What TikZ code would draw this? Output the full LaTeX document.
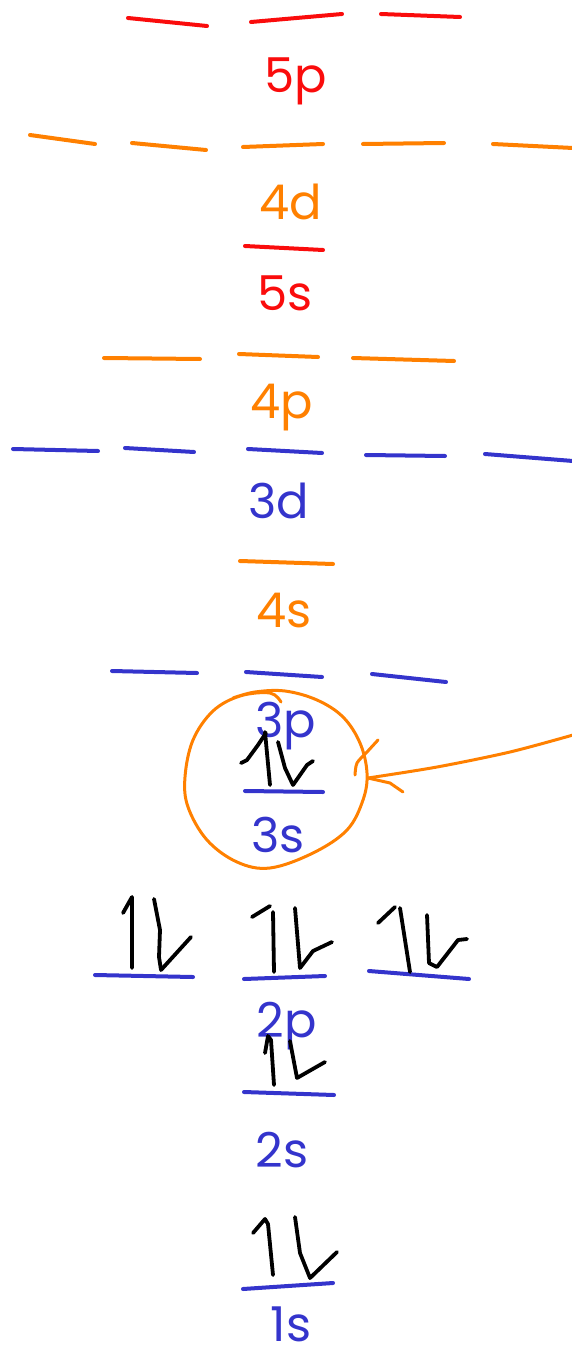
\documentclass[tikz,border=0pt]{standalone}
\usepackage{fontspec}
\setmainfont{Poppins}
\usepackage{tikz}
\definecolor{Cred}{RGB}{250,12,12}
\definecolor{Cora}{RGB}{255,128,0}
\definecolor{Cblu}{RGB}{52,52,204}
\tikzset{
  lvl/.style={draw=#1, line width=4pt, line cap=round},
  lbl/.style={text=#1, anchor=base, inner sep=0pt,
    font=\fontsize{48}{48}\selectfont},
  spin/.style={draw=black, line width=3.8pt, line cap=round, line join=round},
  hand/.style={draw=Cora, line width=3pt, line cap=round, line join=round}
}

\begin{document}
\begin{tikzpicture}[x=1pt, y=-1pt]
\useasboundingbox (0,0) rectangle (571,1356);

% ---- 5p / 4d / 5s ----
\draw[lvl=Cred] (128,18) -- (207,26);
\draw[lvl=Cred] (251,22) -- (342,14);
\draw[lvl=Cred] (381,14) -- (460,17);
\node[lbl=Cred] (L5p) at (296,93) {5p};

\draw[lvl=Cora] (30,135) -- (95,144);
\draw[lvl=Cora] (132,143) -- (206,150);
\draw[lvl=Cora] (243,147) -- (323,144);
\draw[lvl=Cora] (363,144) -- (444,143);
\draw[lvl=Cora] (493,144) -- (573,148);
\node[lbl=Cora] (L4d) at (291,220) {4d};

\draw[lvl=Cred] (245,246) -- (323,250);
\node[lbl=Cred] (L5s) at (285,310) {5s};

% ---- 4p / 3d / 4s ----
\draw[lvl=Cora] (104,358) -- (200,359);
\draw[lvl=Cora] (239,354) -- (318,357);
\draw[lvl=Cora] (353,358) -- (454,361);
\node[lbl=Cora] (L4p) at (282,418) {4p};

\draw[lvl=Cblu] (13,449) -- (98,451);
\draw[lvl=Cblu] (125,448) -- (194,452);
\draw[lvl=Cblu] (248,449) -- (322,453);
\draw[lvl=Cblu] (366,455) -- (445,456);
\draw[lvl=Cblu] (485,454) -- (573,461);
\node[lbl=Cblu] (L3d) at (279,518) {3d};

\draw[lvl=Cora] (240,561) -- (333,564);
\node[lbl=Cora] (L4s) at (284,627) {4s};

% ---- 3p / 3s ----
\draw[lvl=Cblu] (112,671) -- (197,673);
\draw[lvl=Cblu] (246,672) -- (322,677);
\draw[lvl=Cblu] (372,674) -- (446,682);
\node[lbl=Cblu] (L3p) at (286,737) {3p};

\draw[lvl=Cblu] (245,791) -- (323,792);
\node[lbl=Cblu] (L3s) at (278,852) {3s};
\draw[spin] (241,763) -- (247,760) -- (258,745) -- (266,733);
\draw[spin] (265,732) -- (270,785);
\draw[spin] (278,742) -- (285,768) -- (293,785) -- (307,765) -- (313,761);

% ---- 2p / 2s / 1s ----
\draw[lvl=Cblu] (95,975) -- (193,977);
\draw[lvl=Cblu] (244,979) -- (325,976);
\draw[lvl=Cblu] (369,971) -- (469,979);
\node[lbl=Cblu] (L2p) at (287,1037) {2p};
\draw[spin] (123,913) -- (132,897) -- (132,968);
\draw[spin] (154,899) -- (160,930) -- (159,957) -- (161,970) -- (191,937);
\draw[spin] (252,917) -- (270,906);
\draw[spin] (273,912) -- (274,972);
\draw[spin] (295,908) -- (300,968) -- (313,951) -- (332,942);
\draw[spin] (378,923) -- (395,907);
\draw[spin] (400,908) -- (410,972);
\draw[spin] (427,915) -- (429,963) -- (437,967) -- (458,940) -- (467,939);

\draw[lvl=Cblu] (244,1092) -- (334,1095);
\node[lbl=Cblu] (L2s) at (282,1167) {2s};
\draw[spin] (265,1053) -- (268,1036) -- (271,1040) -- (274,1085);
\draw[spin] (290,1041) -- (297,1078) -- (325,1062);

\draw[lvl=Cblu] (243,1289) -- (333,1283);
\node[lbl=Cblu] (L1s) at (291,1341) {1s};
\draw[spin] (253,1233) -- (265,1219) -- (268,1224) -- (273,1275);
\draw[spin] (295,1217) -- (300,1253) -- (310,1278) -- (337,1252);

% ---- ring round 3s, with pointer ----
\coordinate (ringE) at (368,778);
\coordinate (tail) at (573,735);
\draw[hand] plot[smooth, tension=0.6] coordinates {
  (281,702) (270,693) (240,696) (213,711) (193,740) (185,777)
  (188,807) (207,840) (237,862) (270,868) (313,853) (347,830)
  (363,800) (367,773) (360,743) (343,717) (317,700) (285,691)
  (255,692) (233,698)};
\draw[hand] plot[smooth] coordinates {(tail) (510,752) (437,767) (ringE)};
\draw[hand] (ringE) -- (390,783) -- (403,792);
\draw[hand] plot[smooth] coordinates {(355,775) (357,763) (367,752) (378,740)};

\end{tikzpicture}
\end{document}
